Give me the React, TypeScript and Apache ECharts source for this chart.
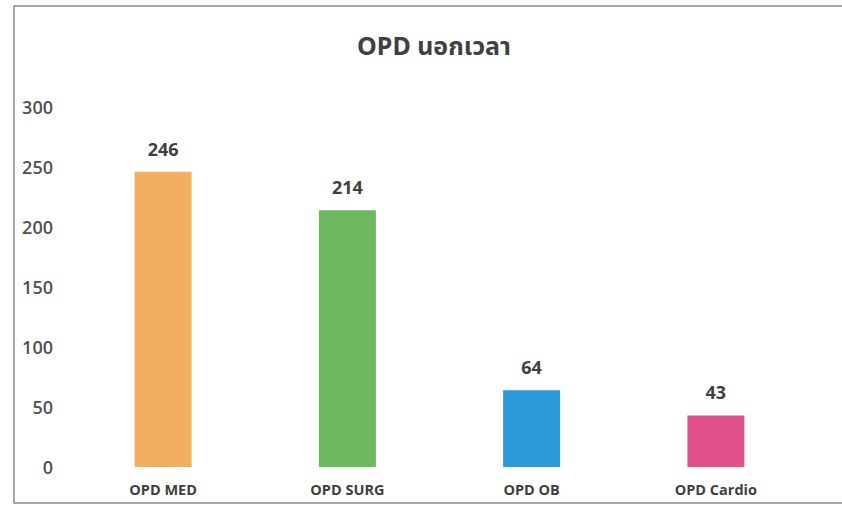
import React, { useEffect, useRef } from "react";
import * as echarts from "echarts";

const categories = ["OPD MED", "OPD SURG", "OPD OB", "OPD Cardio"];
const values = [246, 214, 64, 43];
const barColors = ["#F3AE62", "#6DB960", "#2A9AD9", "#E2528A"];
const titleText = "OPD นอกเวลา";

export default function App() {
  const ref = useRef<HTMLDivElement>(null);
  useEffect(() => {
    if (!ref.current) return;
    const chart = echarts.init(ref.current, undefined, { renderer: "svg" });
    chart.setOption({
      animation: false,
      backgroundColor: "#ffffff",
      title: {
        text: titleText,
        left: 429,
        textAlign: "center",
        top: 27,
        textStyle: {
          fontFamily: "'Noto Sans', 'Noto Sans Thai', sans-serif",
          fontSize: 25,
          fontWeight: "bold",
          color: "#404040",
        },
      },
      graphic: [
        {
          type: "rect",
          shape: { x: 14, y: 6, width: 840, height: 497 },
          style: { fill: "none", stroke: "#8a8a8a", lineWidth: 1.5 },
          silent: true,
        },
      ],
      grid: { left: 71, right: 34, top: 107, bottom: 42 },
      xAxis: {
        type: "category",
        data: categories,
        axisLine: { show: false },
        axisTick: { show: false },
        axisLabel: {
          margin: 15,
          fontSize: 14.5,
          fontWeight: "bold",
          color: "#404040",
          fontFamily: "'Open Sans', sans-serif",
        },
      },
      yAxis: {
        type: "value",
        min: 0,
        max: 300,
        interval: 50,
        axisLine: { show: false },
        axisTick: { show: false },
        splitLine: { show: false },
        axisLabel: {
          margin: 18,
          fontSize: 18,
          fontWeight: 600,
          color: "#505050",
          fontFamily: "'Open Sans', sans-serif",
        },
      },
      series: [
        {
          type: "bar",
          barWidth: 57,
          data: values.map((v, i) => ({ value: v, itemStyle: { color: barColors[i] } })),
          label: {
            show: true,
            position: "top",
            distance: 14,
            fontSize: 18,
            fontWeight: "bold",
            color: "#404040",
            fontFamily: "'Open Sans', sans-serif",
          },
        },
      ],
    });
    return () => chart.dispose();
  }, []);
  return (
    <div
      ref={ref}
      style={{ position: "fixed", left: 0, top: 0, width: 842, height: 509 }}
    />
  );
}
